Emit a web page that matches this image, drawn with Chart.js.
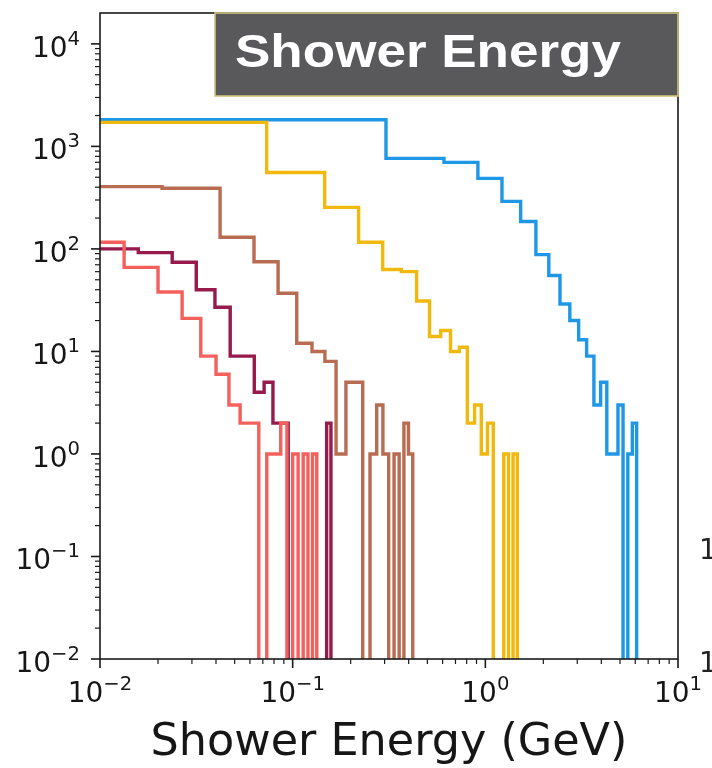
<!DOCTYPE html>
<html>
<head>
<meta charset="utf-8">
<script src="https://cdn.jsdelivr.net/npm/chart.js@4/dist/chart.umd.min.js"></script>
<style>
  html, body { margin: 0; padding: 0; background: #ffffff; }
  #wrap { width: 712px; height: 768px; position: relative; }
</style>
</head>
<body>
<div id="wrap"><canvas id="chart" width="712" height="768"></canvas></div>
<script>
// Each histogram has 20 equal-width bins starting at 0 GeV; widths in GeV
const redBinWidth    = 0.00667;
const maroonBinWidth = 0.0079;
const brownBinWidth  = 0.021;
const yellowBinWidth = 0.0733;
const blueBinWidth   = 0.305;

// Entries per bin (null: bin lies entirely below 10^-2 GeV, outside the axis)
const redCounts    = [null, 116, 66, 38, 21, 9, 6, 3, 2, 2, 0, 1, 1, 2, 0, 1, 0, 1, 0, 1];
const maroonCounts = [null, 100, 92, 74, 40, 27, 9, 9, 4, 5, 2, 2, 0, 0, 0, 0, 0, 0, 0, 2];
const brownCounts  = [405, 390, 130, 75, 37, 12, 10, 8, 1, 5, 5, 0, 1, 3, 1, 0, 1, 0, 2, 1];
const yellowCounts = [1715, 557, 254, 116, 63, 60, 31, 14, 16, 10, 11, 2, 3, 1, 2, 0, 0, 1, 0, 1];
const blueCounts   = [1820, 764, 698, 488, 291, 185, 88, 55, 29, 20, 13, 9, 3, 5, 1, 1, 3, 0, 1, 2];

// Axis decades and their labels (base^exponent)
const xMajorTicks = [0.01, 0.1, 1, 10];
const xTickLabels = ['10^\u22122', '10^\u22121', '10^0', '10^1'];
const yMajorTicks = [0.01, 0.1, 1, 10, 100, 1000, 10000];
const yTickLabels = ['10^\u22122', '10^\u22121', '10^0', '10^1', '10^2', '10^3', '10^4'];

const titleText = 'Shower Energy';
const xAxisTitle = 'Shower Energy (GeV)';

// Typography
const TICK_FONT = '28px "DejaVu Sans"';
const SUP_FONT = '19.6px "DejaVu Sans"';
const SUP_RAISE = 12;
const AXIS_TITLE_FONT = '44.5px "DejaVu Sans"';
const BOX_TITLE_FONT = 'bold 46px "Liberation Sans", Arial, sans-serif';

// Empty bins sit below the visible range on a log axis, so outlines drop to the bottom edge
const FLOOR = 1e-4;
const NEAR_ZERO = 1e-4;

function stepOutline(counts, width) {
  const pts = [];
  let lastHi = null;
  counts.forEach((c, i) => {
    if (c === null) return;
    const lo = Math.max(i * width, NEAR_ZERO);
    const hi = (i + 1) * width;
    const y = c > 0 ? c : FLOOR;
    if (pts.length === 0) pts.push({ x: lo, y: FLOOR });
    pts.push({ x: lo, y: y });
    pts.push({ x: hi, y: y });
    lastHi = hi;
  });
  pts.push({ x: lastHi, y: FLOOR });
  return pts;
}

// 1..9 x each decade, decades flagged as major
function logTicks(lo, hi) {
  const out = [];
  for (let d = lo; d < hi * 0.999; d *= 10) {
    for (let m = 1; m < 10; m++) out.push({ value: +(m * d).toPrecision(3), major: m === 1 });
  }
  out.push({ value: hi, major: true });
  return out;
}

function series(label, counts, width, color) {
  return {
    label: label,
    data: stepOutline(counts, width),
    borderColor: color,
    backgroundColor: color,
    borderWidth: 3.4,
    pointRadius: 0,
    fill: false,
    tension: 0,
    clip: 0,
    borderJoinStyle: 'miter',
    borderCapStyle: 'butt'
  };
}

function drawText(ctx, text, x, y, font, stretch) {
  ctx.save();
  ctx.font = font;
  ctx.textAlign = 'left';
  ctx.textBaseline = 'alphabetic';
  ctx.translate(x, y);
  ctx.scale(stretch || 1, 1);
  ctx.fillText(text, 0, 0);
  ctx.restore();
}

function textWidth(ctx, text, font) {
  ctx.save();
  ctx.font = font;
  const w = ctx.measureText(text).width;
  ctx.restore();
  return w;
}

// "10^e" drawn as a base with a raised exponent; anchor 'right', 'center' or 'left'
function powerLabel(ctx, label, x, baseline, anchor) {
  const [base, exp] = label.split('^');
  const wb = textWidth(ctx, base, TICK_FONT);
  const we = textWidth(ctx, exp, SUP_FONT);
  const total = wb + we;
  const left = anchor === 'right' ? x - total : anchor === 'left' ? x : x - total / 2;
  drawText(ctx, base, left, baseline, TICK_FONT);
  drawText(ctx, exp, left + wb, baseline - SUP_RAISE, SUP_FONT);
}

// Frame, tick marks, tick labels, axis title, boxed title, adjacent panel's label edge
const decorations = {
  id: 'decorations',
  afterDatasetsDraw(chart) {
    const { ctx, chartArea: a, scales } = chart;
    const xs = scales.x, ys = scales.y;
    ctx.save();
    ctx.strokeStyle = '#1a1a1a';
    ctx.lineWidth = 1.6;
    ctx.strokeRect(a.left, a.top, a.right - a.left, a.bottom - a.top);

    xs.ticks.forEach(t => {
      const px = xs.getPixelForValue(t.value);
      ctx.lineWidth = t.major ? 1.6 : 1.2;
      ctx.beginPath();
      ctx.moveTo(px, a.bottom);
      ctx.lineTo(px, a.bottom + (t.major ? 9 : 5));
      ctx.stroke();
    });
    ys.ticks.forEach(t => {
      const py = ys.getPixelForValue(t.value);
      ctx.lineWidth = t.major ? 1.6 : 1.2;
      ctx.beginPath();
      ctx.moveTo(a.left, py);
      ctx.lineTo(a.left - (t.major ? 9 : 5), py);
      ctx.stroke();
    });

    ctx.fillStyle = '#161616';
    xMajorTicks.forEach((v, i) => {
      powerLabel(ctx, xTickLabels[i], xs.getPixelForValue(v), a.bottom + 43, 'center');
    });
    yMajorTicks.forEach((v, i) => {
      powerLabel(ctx, yTickLabels[i], a.left - 20, ys.getPixelForValue(v) + 13, 'right');
    });

    // axis title
    const tw = textWidth(ctx, xAxisTitle, AXIS_TITLE_FONT);
    drawText(ctx, xAxisTitle, (a.left + a.right) / 2 - tw / 2, 755, AXIS_TITLE_FONT);

    // boxed panel title
    const bx = 215, by = a.top, bw = a.right - bx, bh = 83;
    ctx.fillStyle = '#59595b';
    ctx.fillRect(bx, by, bw, bh);
    ctx.strokeStyle = '#cbc37c';
    ctx.lineWidth = 1.6;
    ctx.strokeRect(bx, by, bw, bh);
    ctx.fillStyle = '#ffffff';
    const w = textWidth(ctx, titleText, BOX_TITLE_FONT);
    drawText(ctx, titleText, 235, 67, BOX_TITLE_FONT, 386 / w);

    // left edge of the neighbouring panel's tick labels
    ctx.fillStyle = '#222';
    powerLabel(ctx, yTickLabels[1], 699, ys.getPixelForValue(0.1) + 3, 'left');
    powerLabel(ctx, yTickLabels[0], 699, ys.getPixelForValue(0.01) + 13, 'left');
    ctx.restore();
  }
};

new Chart(document.getElementById('chart'), {
  type: 'line',
  data: {
    datasets: [
      series('E1', redCounts, redBinWidth, '#f4605b'),
      series('E2', maroonCounts, maroonBinWidth, '#961a4c'),
      series('E3', brownCounts, brownBinWidth, '#b86c52'),
      series('E4', yellowCounts, yellowBinWidth, '#f1b80e'),
      series('E5', blueCounts, blueBinWidth, '#1e98e6')
    ]
  },
  options: {
    responsive: false,
    animation: false,
    devicePixelRatio: 1,
    layout: { padding: { left: 0, right: 34, top: 13, bottom: 0 } },
    plugins: { legend: { display: false }, tooltip: { enabled: false } },
    elements: { point: { radius: 0 } },
    scales: {
      x: {
        type: 'logarithmic',
        position: 'bottom',
        min: 0.01,
        max: 10,
        grid: { display: false },
        border: { display: false },
        ticks: { display: false },
        afterBuildTicks: s => { s.ticks = logTicks(0.01, 10); },
        afterFit: s => { s.height = 109; s.paddingLeft = 0; s.paddingRight = 0; }
      },
      y: {
        type: 'logarithmic',
        position: 'left',
        min: 0.01,
        max: 20000,
        grid: { display: false },
        border: { display: false },
        ticks: { display: false },
        afterBuildTicks: s => { s.ticks = logTicks(0.01, 10000); },
        afterFit: s => { s.width = 100; s.paddingTop = 0; s.paddingBottom = 0; }
      }
    }
  },
  plugins: [decorations]
});
</script>
</body>
</html>
